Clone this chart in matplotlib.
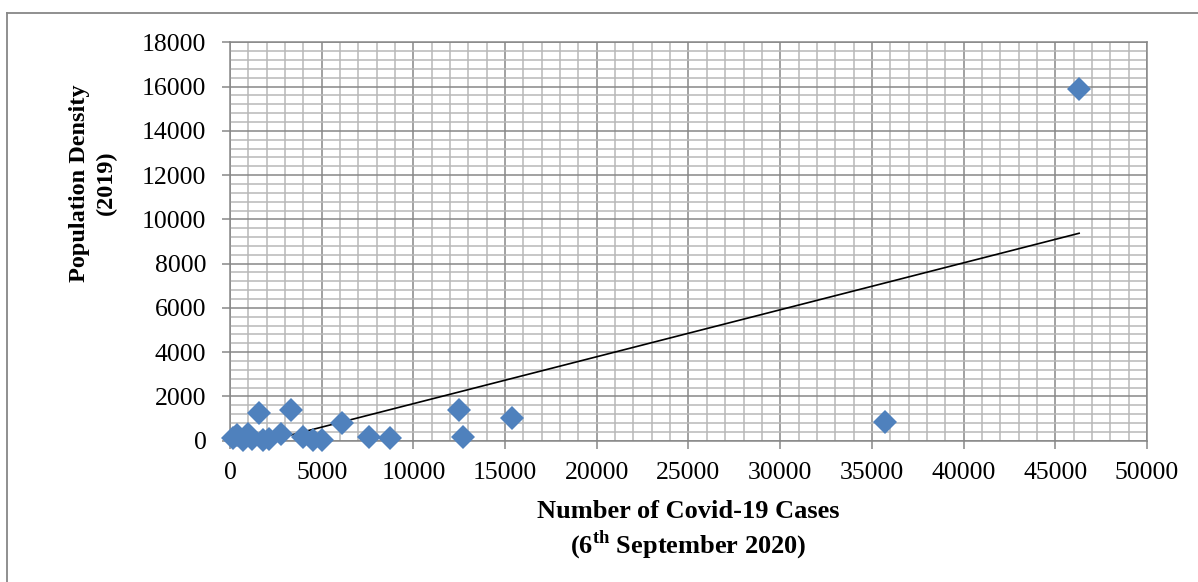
import numpy as np
import matplotlib.pyplot as plt
from matplotlib.ticker import MultipleLocator
from matplotlib.lines import Line2D

plt.rcParams['font.family'] = ['Liberation Serif', 'DejaVu Serif']
plt.rcParams['mathtext.fontset'] = 'custom'
plt.rcParams['mathtext.rm'] = 'Liberation Serif:bold'
plt.rcParams['mathtext.bf'] = 'Liberation Serif:bold'

# covid-19 cases (6 Sep 2020) vs population density (2019)
cases = [150, 400, 700, 1000, 1200, 1600, 1800, 2100, 2800, 3300, 4000,
         4500, 5000, 6100, 7600, 8700, 12500, 12700, 15400, 35700, 46300]
density = [120, 250, 30, 300, 80, 1240, 40, 60, 280, 1380, 150,
           50, 40, 780, 180, 110, 1390, 180, 1040, 840, 15900]

# linear trendline as shown on the chart
trend_slope = 0.2121
trend_intercept = -448

grid_major = '#878787'
grid_minor = '#b8b8b8'
blue = '#4f81bd'

fig = plt.figure(figsize=(11.98, 5.82), dpi=100)
ax = fig.add_axes([0.192, 0.2428, 0.7654, 0.6845])

ax.set_xlim(0, 50000)
ax.set_ylim(0, 18000)
ax.xaxis.set_major_locator(MultipleLocator(5000))
ax.xaxis.set_minor_locator(MultipleLocator(1000))
ax.yaxis.set_major_locator(MultipleLocator(2000))
ax.yaxis.set_minor_locator(MultipleLocator(400))

ax.grid(which='minor', color=grid_minor, linewidth=1.1)
ax.grid(which='major', color=grid_major, linewidth=1.1)
ax.set_axisbelow(True)

for s in ax.spines.values():
    s.set_color(grid_major)
    s.set_linewidth(1.1)

ax.tick_params(which='major', direction='out', length=6, width=1.1,
               color=grid_major, labelsize=18.5, labelcolor='black')
ax.tick_params(axis='y', pad=11)
ax.tick_params(axis='x', pad=9)
ax.tick_params(which='minor', length=0)

xs = np.array([min(cases), max(cases)])
ax.plot(xs, trend_slope * xs + trend_intercept, color='black', linewidth=1.2, zorder=2)
ax.plot(cases, density, linestyle='none', marker='D', markersize=12,
        color=blue, markeredgewidth=0, zorder=3, clip_on=False)

fig.text(688 / 1198, 1 - 511 / 582, 'Number of Covid-19 Cases', ha='center', va='center',
         fontsize=19, fontweight='bold')
fig.text(688 / 1198, 1 - 545 / 582, r'(6$^{\mathrm{th}}$ September 2020)', ha='center',
         va='center', fontsize=19, fontweight='bold')
fig.text(93 / 1198, 1 - 183 / 582, 'Population Density\n(2019)', ha='center', va='center',
         rotation=90, fontsize=17.5, fontweight='bold', linespacing=1.4, multialignment='center')

# outer chart frame
fig.add_artist(Line2D([7 / 1198, 7 / 1198], [0, 1 - 13 / 582], color=grid_major, linewidth=1.3))
fig.add_artist(Line2D([7 / 1198, 1], [1 - 13 / 582, 1 - 13 / 582], color=grid_major, linewidth=1.3))

fig.savefig('out.png', dpi=100)
